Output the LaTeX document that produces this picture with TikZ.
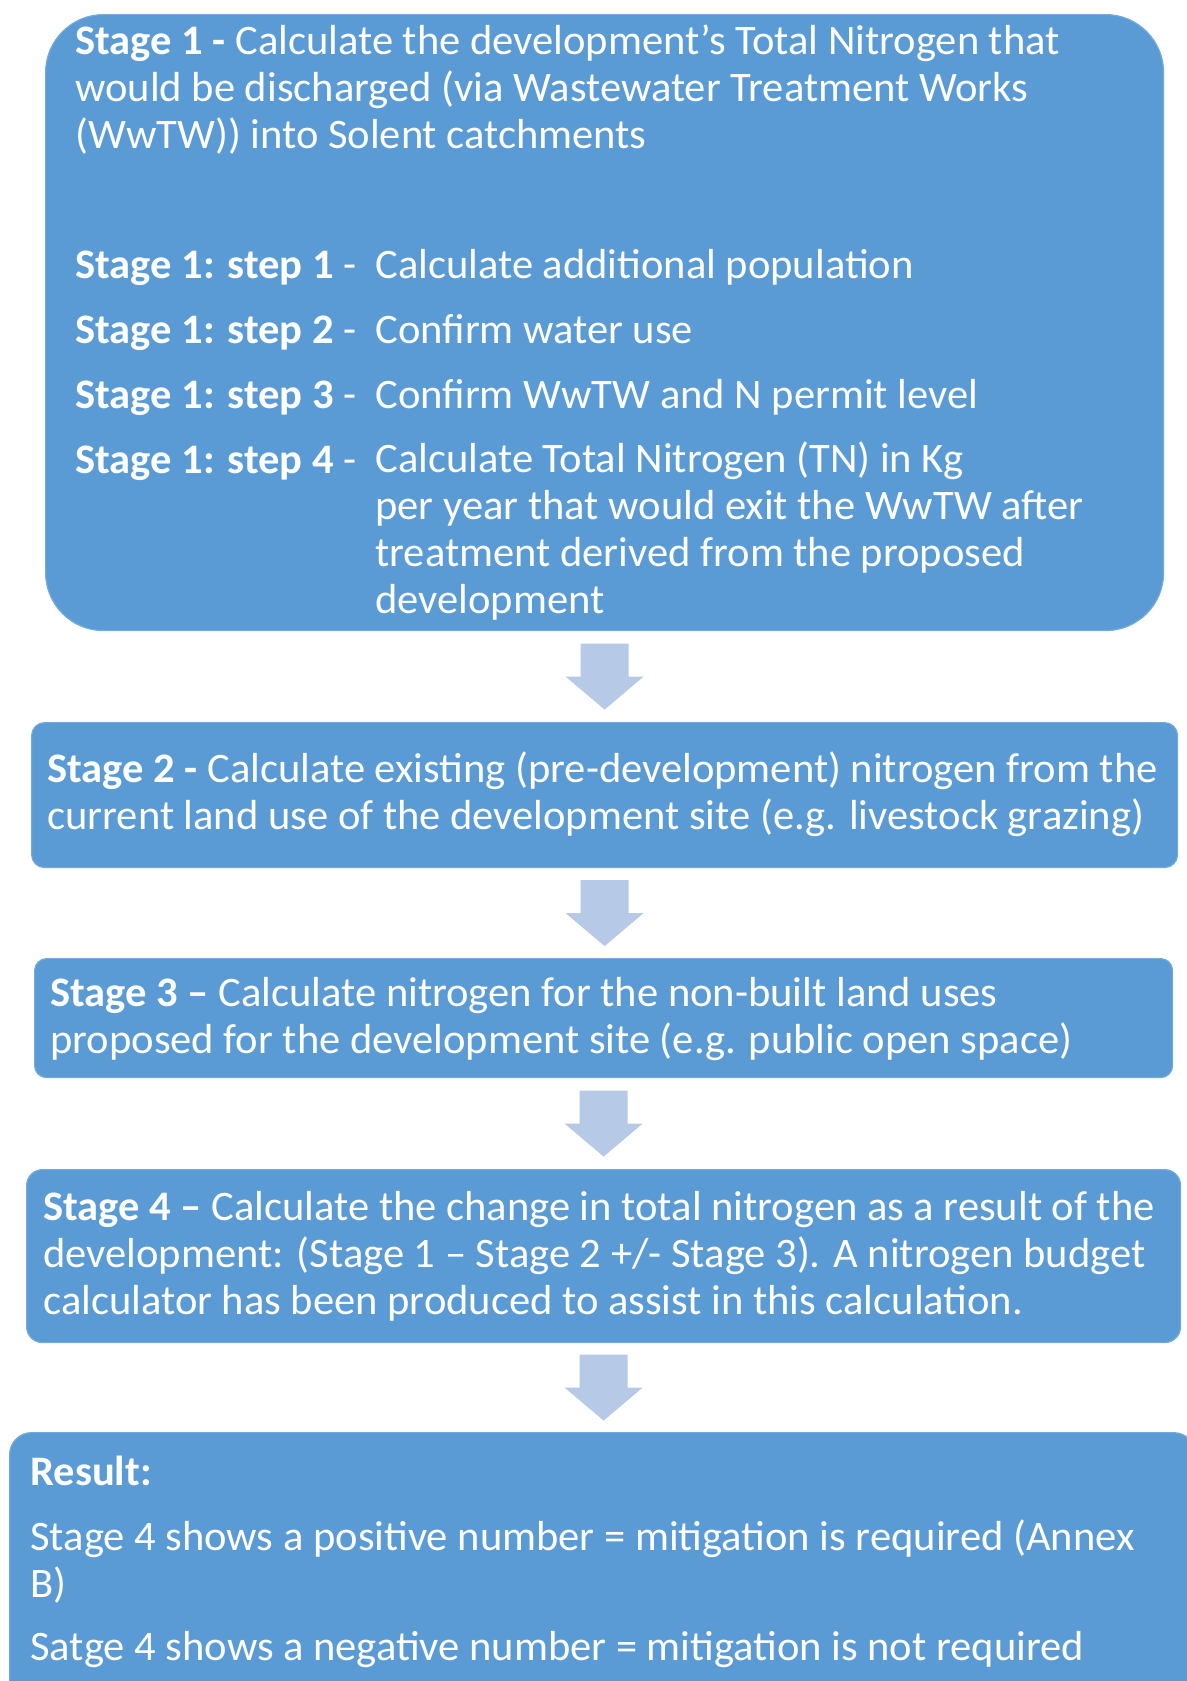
\documentclass[tikz,border=0pt]{standalone}
\usepackage{fontspec}
\setmainfont{Carlito}[FakeStretch=1.013]
\usepackage{tikz}
\usetikzlibrary{calc}

\definecolor{boxblue}{RGB}{91,155,213}
\definecolor{arrowblue}{RGB}{182,202,232}

\begin{document}
\begin{tikzpicture}[x=0.5pt,y=-0.5pt,
    stagebox/.style={fill=boxblue, draw=boxblue!85!white, line width=0.6pt,
        anchor=north west, inner sep=0pt},
    stagetext/.style={anchor=base west, inner sep=0pt, align=left, text=white,
        font=\fontsize{21}{23.5}\selectfont},
    flowarrow/.style={fill=arrowblue}]
    \useasboundingbox (0,0) rectangle (1187,1681);

    % Draw the boxes
    \node[stagebox, minimum width=559pt, minimum height=308pt, rounded corners=29pt] (stage1) at (45,14) {};
    \node[stagebox, minimum width=573pt, minimum height=72.5pt, rounded corners=6.5pt] (stage2) at (31,722) {};
    \node[stagebox, minimum width=569pt, minimum height=59.5pt, rounded corners=6pt] (stage3) at (34,958) {};
    \node[stagebox, minimum width=577pt, minimum height=86.5pt, rounded corners=8pt] (stage4) at (26,1169) {};
    \node[stagebox, minimum width=593pt, minimum height=150pt, rounded corners=11pt] (result) at (9,1432) {};

    % Draw the arrows between the boxes
    \fill[flowarrow] ($(stage1.south)!0.5!(stage1.south |- stage2.north)$) ++(-24,-33) -- ++(48,0) -- ++(0,33) -- ++(15,0) -- ++(-39,33) -- ++(-39,-33) -- ++(15,0) -- cycle;
    \fill[flowarrow] ($(stage2.south)!0.5!(stage2.south |- stage3.north)$) ++(-24,-33) -- ++(48,0) -- ++(0,33) -- ++(15,0) -- ++(-39,33) -- ++(-39,-33) -- ++(15,0) -- cycle;
    \fill[flowarrow] ($(stage3.south)!0.5!(stage3.south |- stage4.north)$) ++(-24,-33) -- ++(48,0) -- ++(0,33) -- ++(15,0) -- ++(-39,33) -- ++(-39,-33) -- ++(15,0) -- cycle;
    \fill[flowarrow] ($(stage4.south)!0.5!(stage4.south |- result.north)$) ++(-24,-33) -- ++(48,0) -- ++(0,33) -- ++(15,0) -- ++(-39,33) -- ++(-39,-33) -- ++(15,0) -- cycle;

    % Stage 1 text (multi-line nodes sit on their last baseline)
    \node[stagetext] (s1head) at (75,148) {\textbf{Stage 1 -} Calculate the development’s Total Nitrogen that\\would be discharged (via Wastewater Treatment Works\\(WwTW)) into Solent catchments};
    \node[stagetext] (step1) at (75,278) {\textbf{Stage 1: step 1} -};
    \node[stagetext] (step2) at (75,343) {\textbf{Stage 1: step 2} -};
    \node[stagetext] (step3) at (75,408) {\textbf{Stage 1: step 3} -};
    \node[stagetext] (step4) at (75,473) {\textbf{Stage 1: step 4} -};
    \node[stagetext] (step1txt) at (375,278) {Calculate additional population};
    \node[stagetext] (step2txt) at (375,343) {Confirm water use};
    \node[stagetext] (step3txt) at (375,408) {Confirm WwTW and N permit level};
    \node[stagetext] (step4txt) at (375,613) {Calculate Total Nitrogen (TN) in Kg\\per year that would exit the WwTW after\\treatment derived from the proposed\\development};

    % Stage 2 to 4 text
    \node[stagetext] (s2text) at (47,829) {\textbf{Stage 2 -} Calculate existing (pre-development) nitrogen from the\\current land use of the development site (e.g. livestock grazing)};
    \node[stagetext] (s3text) at (50,1053) {\textbf{Stage 3 –} Calculate nitrogen for the non-built land uses\\proposed for the development site (e.g. public open space)};
    \node[stagetext] (s4text) at (43,1314) {\textbf{Stage 4 –} Calculate the change in total nitrogen as a result of the\\development: (Stage 1 – Stage 2 +/- Stage 3). A nitrogen budget\\calculator has been produced to assist in this calculation.};

    % Result text
    \node[stagetext] (rhead) at (30,1485) {\textbf{Result:}};
    \node[stagetext] (rpos) at (30,1597) {Stage 4 shows a positive number = mitigation is required (Annex\\B)};
    \node[stagetext] (rneg) at (30,1660) {Satge 4 shows a negative number = mitigation is not required};
\end{tikzpicture}
\end{document}
